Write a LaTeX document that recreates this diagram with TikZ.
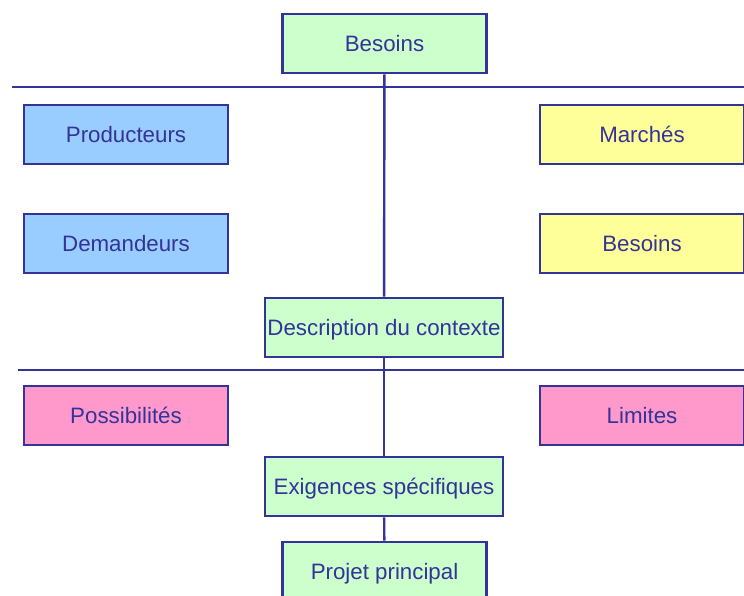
\documentclass[tikz,border=0pt]{standalone}
\usepackage{fontspec}
\setmainfont{Liberation Sans}
\usetikzlibrary{positioning}
\definecolor{boxline}{HTML}{333399}
\definecolor{besoincol}{HTML}{CCFFCC}
\definecolor{acteurcol}{HTML}{99CCFF}
\definecolor{marchecol}{HTML}{FFFF99}
\definecolor{limitecol}{HTML}{FF99CC}

\begin{document}
\begin{tikzpicture}[
  x=1pt, y=-1pt,
  box/.style={draw=boxline, line width=2.6pt, text=boxline, font=\fontsize{22.3}{24}\selectfont,
    minimum width=204pt, minimum height=59pt, inner sep=0pt, text depth=0pt, yshift=-1.5pt},
  widebox/.style={box, minimum width=238pt},
  link/.style={draw=boxline, line width=2.4pt},
  sepline/.style={draw=boxline, line width=2pt}
]
  \useasboundingbox (0,0) rectangle (744,596);

  % Main chain
  \node[box, fill=besoincol] (besoins) at (384.5, 42) {Besoins};
  \node[widebox, fill=besoincol] (contexte) at (384, 326) {Description du contexte};
  \node[widebox, fill=besoincol] (exigences) at (384, 485) {Exigences spécifiques};
  \node[box, fill=besoincol] (projet) at (384.5, 570) {Projet principal};

  % Side boxes
  \node[box, fill=acteurcol] (producteurs) at (126, 133) {Producteurs};
  \node[box, fill=acteurcol] (demandeurs) at (126, 242) {Demandeurs};
  \node[box, fill=marchecol] (marches) at (642, 133) {Marchés};
  \node[box, fill=marchecol] (besoinsmarche) at (642, 242) {Besoins};
  \node[box, fill=limitecol] (possibilites) at (126, 414) {Possibilités};
  \node[box, fill=limitecol] (limites) at (642, 414) {Limites};

  % Separators
  \coordinate (sepA west) at (12, 87);
  \coordinate (sepA east) at (744, 87);
  \coordinate (sepB west) at (18, 370);
  \coordinate (sepB east) at (744, 370);
  \draw[sepline] (sepA west) -- (sepA east);
  \draw[sepline] (sepB west) -- (sepB east);

  % Links
  \draw[link] (besoins) -- (contexte);
  \draw[link] (contexte) -- (exigences);
  \draw[link] (exigences) -- (projet);
\end{tikzpicture}
\end{document}
